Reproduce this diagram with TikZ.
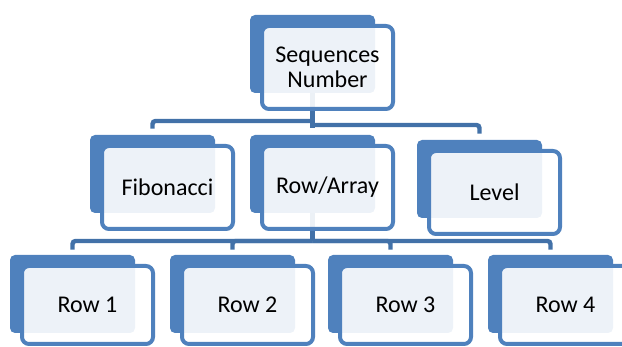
\documentclass[tikz,border=0pt]{standalone}
\usepackage{fontspec}
\setmainfont{Carlito}
\usetikzlibrary{backgrounds}
\definecolor{boxblue}{RGB}{79,129,189}
\definecolor{linkblue}{RGB}{66,113,168}

\begin{document}
\begin{tikzpicture}[x=0.5pt, y=-0.5pt,
    shadowbox/.style={fill=boxblue, rounded corners=2.5pt, minimum width=62.5pt, minimum height=39pt, inner sep=0pt},
    frontbox/.style={draw=boxblue, line width=2pt, fill=white, fill opacity=0.9, text opacity=1, rounded corners=3.5pt,
      minimum width=65.5pt, minimum height=41.5pt, inner sep=0pt, align=center, font=\fontsize{12}{12.5}\selectfont},
    link/.style={draw=linkblue, line width=2.2pt, rounded corners=1.5pt}]
          \useasboundingbox (0, 0) rectangle (622, 347);
          \clip (0, 0) rectangle (622, 347);

          \node[shadowbox] (seqb) at (312.5, 54) {};
          \node[frontbox] (seq) at (327.5, 67.5) {Sequences\\Number};

          \node[shadowbox] (fibb) at (152.5, 174) {};
          \node[frontbox] (fib) at (167.5, 187.5) {Fibonacci};
          \node[shadowbox] (rowb) at (312.5, 174) {};
          \node[frontbox] (row) at (327.5, 187.5) {Row/Array};
          \node[shadowbox] (levb) at (479.5, 179) {};
          \node[frontbox] (lev) at (494.5, 192.5) {Level};

          \node[shadowbox] (rowib) at (72.5, 294) {};
          \node[frontbox, minimum height=39pt] (rowi) at (87.5, 305) {Row 1};
          \node[shadowbox] (rowiib) at (232.5, 294) {};
          \node[frontbox, minimum height=39pt] (rowii) at (247.5, 305) {Row 2};
          \node[shadowbox] (rowiiib) at (390.5, 294) {};
          \node[frontbox, minimum height=39pt] (rowiii) at (405.5, 305) {Row 3};
          \node[shadowbox] (rowivb) at (550.5, 294) {};
          \node[frontbox, minimum height=39pt] (rowiv) at (565.5, 305) {Row 4};

          \coordinate (hubl) at (312.5, 121);
          \coordinate (hubr) at (312.5, 125);
          \coordinate (hubrow) at (312.5, 241);

          \begin{scope}[on background layer]
            \draw[link] (seqb.south) -- (312.5, 128);
            \draw[link] (hubl) -| ([yshift=3pt]fibb.north);
            \draw[link] (hubr) -| ([yshift=3pt]levb.north);

            \draw[link] (rowb.south) -- (hubrow);
            \draw[link] (hubrow) -| ([yshift=2.5pt]rowib.north);
            \draw[link] (hubrow) -| ([yshift=2.5pt]rowiib.north);
            \draw[link] (hubrow) -| ([yshift=2.5pt]rowiiib.north);
            \draw[link] (hubrow) -| ([yshift=2.5pt]rowivb.north);
          \end{scope}
        \end{tikzpicture}
\end{document}
